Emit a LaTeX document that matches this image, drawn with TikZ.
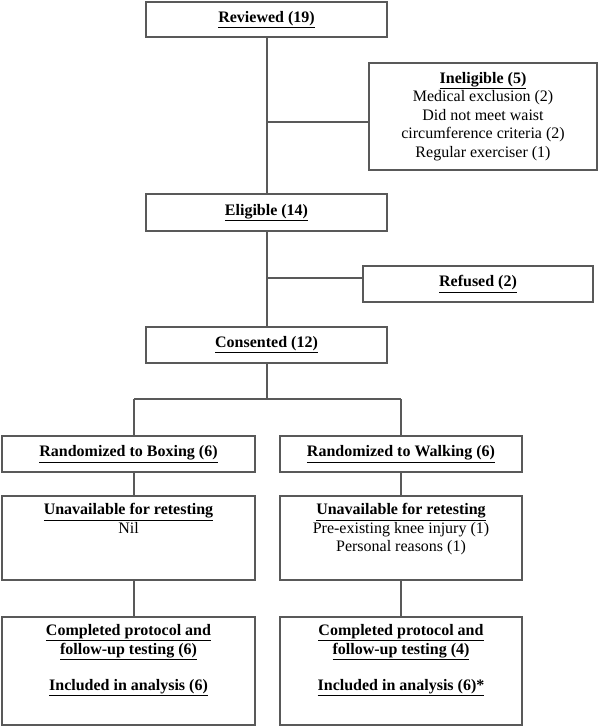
\documentclass[tikz,border=0pt]{standalone}
\usepackage{fontspec}
\setmainfont{Liberation Serif}
\usetikzlibrary{positioning}
\definecolor{linegray}{HTML}{595959}
\newcommand{\ttl}[1]{\underline{\textbf{#1}}}
\newcommand{\topbox}[3]{\begin{minipage}[c][#2][t]{#1}\centering\vspace*{7.5pt}#3\end{minipage}}

\begin{document}
\begin{tikzpicture}[x=1pt,y=-1pt,
  box/.style={draw=linegray,line width=1.3pt,inner sep=0pt,align=center,
    font=\fontsize{16}{18.4}\selectfont},
  link/.style={draw=linegray,line width=1.2pt}]
  \useasboundingbox (0,0) rectangle (600,727);

  % Screening
  \node[box,minimum width=241pt,minimum height=35pt] (rev) at (266.5,19.5) {\ttl{Reviewed (19)}};
  \node[box,minimum width=228pt,minimum height=107pt] (inel) at (483,116.5)
    {\ttl{Ineligible (5)}\\Medical exclusion (2)\\Did not meet waist\\circumference criteria (2)\\Regular exerciser (1)};
  \node[box,minimum width=241pt,minimum height=37pt] (elig) at (266.5,212.5) {\ttl{Eligible (14)}};
  \node[box,minimum width=230pt,minimum height=36pt] (ref) at (478,284) {\ttl{Refused (2)}};
  \node[box,minimum width=241pt,minimum height=36pt] (cons) at (266.5,345) {\ttl{Consented (12)}};

  % Allocation
  \node[box,minimum width=253pt,minimum height=36pt] (ranB) at (128.5,454) {\ttl{Randomized to Boxing (6)}};
  \node[box,minimum width=242pt,minimum height=36pt] (ranW) at (401,454) {\ttl{Randomized to Walking (6)}};

  % Follow-up
  \node[box] (unB) at (128.5,538) {\topbox{253pt}{84pt}{\ttl{Unavailable for retesting}\\Nil}};
  \node[box] (unW) at (401,538) {\topbox{242pt}{84pt}{\ttl{Unavailable for retesting}\\Pre-existing knee injury (1)\\Personal reasons (1)}};
  \node[box] (comB) at (128.5,671) {\topbox{253pt}{108pt}{\ttl{Completed protocol and}\\\ttl{follow-up testing (6)}\\[18.4pt]\ttl{Included in analysis (6)}}};
  \node[box] (comW) at (401,671) {\topbox{242pt}{108pt}{\ttl{Completed protocol and}\\\ttl{follow-up testing (4)}\\[18.4pt]\ttl{Included in analysis (6)*}}};

  % Junctions
  \coordinate (ji) at (267,122);
  \coordinate (jr) at (267,278);
  \coordinate (split) at (267,399);
  \coordinate (bl) at (134,399);
  \coordinate (br) at (401,399);

  % Connectors
  \draw[link] (rev.south -| ji) -- (elig.north -| ji);
  \draw[link] (ji) -- (ji -| inel.west);
  \draw[link] (elig.south -| jr) -- (cons.north -| jr);
  \draw[link] (jr) -- (jr -| ref.west);
  \draw[link] (cons.south -| split) -- (split);
  \draw[link] (bl) -- (br);
  \draw[link] (bl) -- (bl |- ranB.north);
  \draw[link] (br) -- (br |- ranW.north);
  \draw[link] (bl |- ranB.south) -- (bl |- unB.north);
  \draw[link] (br |- ranW.south) -- (br |- unW.north);
  \draw[link] (bl |- unB.south) -- (bl |- comB.north);
  \draw[link] (br |- unW.south) -- (br |- comW.north);
\end{tikzpicture}
\end{document}
